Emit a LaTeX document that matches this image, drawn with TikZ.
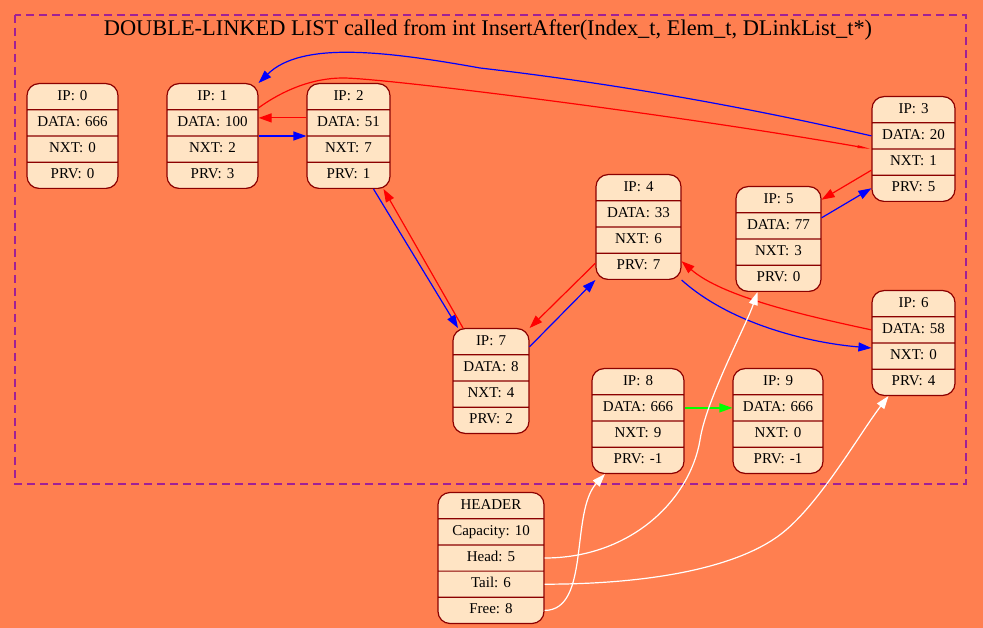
\documentclass[tikz,border=0pt]{standalone}
\usepackage{fontspec}
\setmainfont{Liberation Serif}
\usetikzlibrary{shapes.multipart,arrows.meta}
\frenchspacing

\definecolor{coral}{RGB}{255,127,80}
\definecolor{bisque}{RGB}{255,228,196}
\definecolor{darkred}{RGB}{139,0,0}
\definecolor{clusterpurple}{RGB}{160,32,150}
\definecolor{nxtgreen}{RGB}{0,255,0}

\begin{document}
\begin{tikzpicture}[x=1pt,y=-1pt,
  rec/.style={rectangle split, rectangle split parts=4, draw=darkred, fill=bisque,
    line width=1.2pt, rounded corners=12pt, inner xsep=0pt, inner ysep=4pt,
    align=center, font=\fontsize{15}{17}\selectfont},
  lnk/.style={line width=1.2pt, -{Triangle[length=13pt,width=9pt]}}]

  \fill[coral] (0,0) rectangle (983,628);
  \useasboundingbox (0,0) rectangle (983,628);

  \draw[clusterpurple, line width=1.2pt, dash pattern=on 8pt off 5pt] (15,15) rectangle (966,484);
  \node[font=\fontsize{22.4}{26}\selectfont, anchor=base] (title) at (488,36)
    {DOUBLE-LINKED LIST called from int InsertAfter(Index\_t, Elem\_t, DLinkList\_t*)};

  \node[rec, text width=91pt] (n0) at (72.5,136) {\strut IP: 0 \nodepart{two}\strut DATA: 666 \nodepart{three}\strut NXT: 0 \nodepart{four}\strut PRV: 0};
  \node[rec, text width=91pt] (n1) at (212.5,136) {\strut IP: 1 \nodepart{two}\strut DATA: 100 \nodepart{three}\strut NXT: 2 \nodepart{four}\strut PRV: 3};
  \node[rec, text width=83pt] (n2) at (348.5,136) {\strut IP: 2 \nodepart{two}\strut DATA: 51 \nodepart{three}\strut NXT: 7 \nodepart{four}\strut PRV: 1};
  \node[rec, text width=83pt] (n3) at (913.5,149) {\strut IP: 3 \nodepart{two}\strut DATA: 20 \nodepart{three}\strut NXT: 1 \nodepart{four}\strut PRV: 5};
  \node[rec, text width=85pt] (n4) at (638.5,227) {\strut IP: 4 \nodepart{two}\strut DATA: 33 \nodepart{three}\strut NXT: 6 \nodepart{four}\strut PRV: 7};
  \node[rec, text width=85pt] (n5) at (778.5,239) {\strut IP: 5 \nodepart{two}\strut DATA: 77 \nodepart{three}\strut NXT: 3 \nodepart{four}\strut PRV: 0};
  \node[rec, text width=83pt] (n6) at (913.5,343) {\strut IP: 6 \nodepart{two}\strut DATA: 58 \nodepart{three}\strut NXT: 0 \nodepart{four}\strut PRV: 4};
  \node[rec, text width=76pt] (n7) at (491,381) {\strut IP: 7 \nodepart{two}\strut DATA: 8 \nodepart{three}\strut NXT: 4 \nodepart{four}\strut PRV: 2};
  \node[rec, text width=92pt] (n8) at (638,421) {\strut IP: 8 \nodepart{two}\strut DATA: 666 \nodepart{three}\strut NXT: 9 \nodepart{four}\strut PRV: -1};
  \node[rec, text width=90pt] (n9) at (778,421) {\strut IP: 9 \nodepart{two}\strut DATA: 666 \nodepart{three}\strut NXT: 0 \nodepart{four}\strut PRV: -1};

  \node[rec, rectangle split parts=5, text width=106pt] (hdr) at (491,558)
    {\strut HEADER \nodepart{two}\strut Capacity: 10 \nodepart{three}\strut Head: 5 \nodepart{four}\strut Tail: 6 \nodepart{five}\strut Free: 8};

  \draw[lnk, blue] (n1.two split east) -- (n2.two split west);
  \draw[lnk, blue] ([xshift=25pt]n2.south) -- ([xshift=-33pt]n7.north);
  \draw[lnk, blue] ([yshift=-5pt]n7.text east) -- (n4.south west);
  \draw[lnk, blue] (n4.south east) .. controls +(50,45) and +(-60,-5) .. ([yshift=-5pt]n6.two split west);
  \draw[lnk, blue] ([yshift=-5pt]n5.text split east) -- (n3.four west);
  \draw[lnk, blue] (n3.two west) .. controls +(-130,-30) and +(130,15) .. (480,68)
    .. controls +(-100,-18) and +(42,-41) .. (n1.north east);

  \draw[lnk, red] ([yshift=5pt]n2.two west) -- ([yshift=5pt]n1.two east);
  \draw[lnk, red] ([xshift=-28pt]n7.north) -- ([xshift=35pt]n2.south);
  \draw[lnk, red] ([yshift=-10pt]n4.three split west) -- (n7.north east);
  \draw[lnk, red] (n6.two west) .. controls +(-70,-15) and +(40,35) .. ([yshift=-8pt]n4.three split east);
  \draw[lnk, red] ([yshift=5pt]n3.three split west) -- (n5.text east);
  \draw[line width=1.2pt, red, -{Triangle[length=14pt,width=2.5pt]}] ([yshift=2pt]n1.text split east)
    .. controls +(25,-18) and +(-30,0) .. (343,78)
    .. controls +(40,0) and +(-200,-35) .. (n3.two split west);

  \draw[lnk, nxtgreen] (n8.two east) -- (n9.two west);

  \draw[lnk, white] (hdr.three east) .. controls +(86,0) and +(-10,60) .. (700,440)
    .. controls +(6,-40) and +(-12,35) .. ([xshift=-21pt]n5.south);
  \draw[lnk, white] (hdr.four east) .. controls +(90,0) and +(-50,35) .. (777,537)
    .. controls +(40,-28) and +(-30,39) .. ([xshift=-25pt]n6.south);
  \draw[lnk, white] (hdr.five east) .. controls +(46,0) and +(-35,38) .. ([xshift=-33pt]n8.south);

\end{tikzpicture}
\end{document}
